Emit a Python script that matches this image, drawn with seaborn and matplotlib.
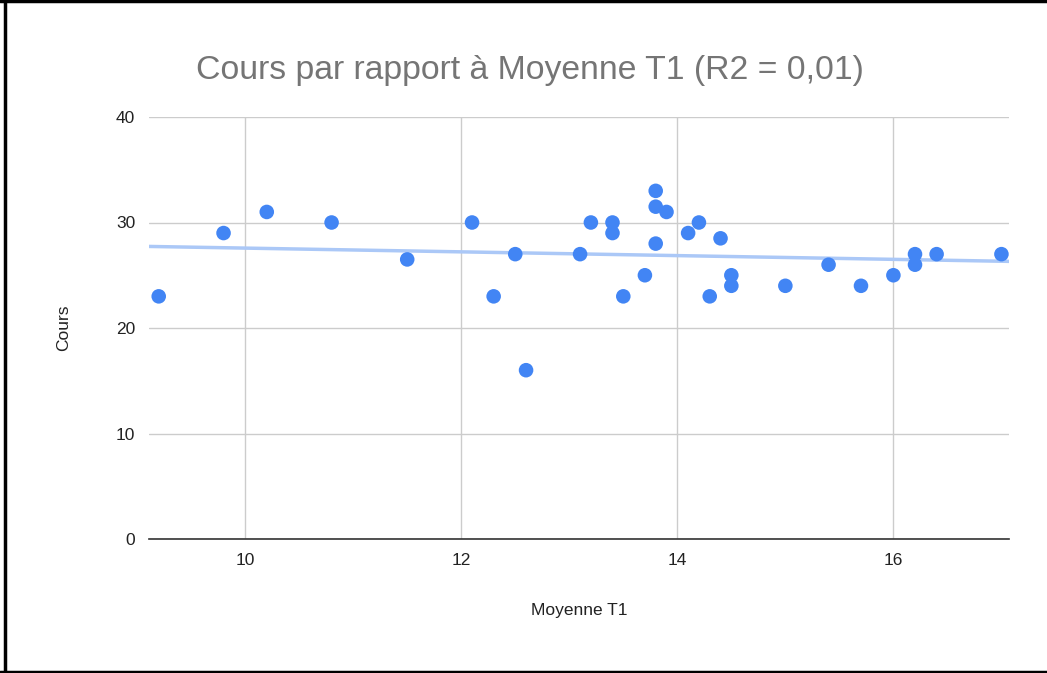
import numpy as np
import pandas as pd
import matplotlib
matplotlib.use("Agg")
import matplotlib.pyplot as plt
import seaborn as sns

# Data
moyenne_t1 = [9.2, 9.8, 10.2, 10.8, 11.5, 12.1, 12.3, 12.5, 12.6, 13.1, 13.2,
              13.4, 13.4, 13.5, 13.7, 13.8, 13.8, 13.9, 13.8, 14.1, 14.2, 14.4,
              14.3, 14.5, 14.5, 15.0, 15.4, 15.7, 16.0, 16.2, 16.2, 16.4, 17.0]
cours = [23, 29, 31, 30, 26.5, 30, 23, 27, 16, 27, 30,
         30, 29, 23, 25, 33, 31.5, 31, 28, 29, 30, 28.5,
         23, 25, 24, 24, 26, 24, 25, 27, 26, 27, 27]

x_ticks = [10, 12, 14, 16]
y_ticks = [0, 10, 20, 30, 40]

df = pd.DataFrame({"Moyenne T1": moyenne_t1, "Cours": cours})

sns.set_theme(style="white")
plt.rcParams["font.family"] = ["Liberation Sans", "DejaVu Sans"]

fig = plt.figure(figsize=(10.47, 6.73), dpi=100)
ax = fig.add_axes([149 / 1047, 1 - 539 / 673, 860 / 1047, 422 / 673])

sns.scatterplot(data=df, x="Moyenne T1", y="Cours", color="#4285f4", s=110,
                edgecolor="none", zorder=3, ax=ax)
ax.set_xlim(9.11, 17.07)
ax.set_ylim(0, 40)

# trendline (linear fit) across the whole axis
sns.regplot(data=df, x="Moyenne T1", y="Cours", scatter=False, ci=None,
            truncate=False, color="#abc8f7", line_kws={"linewidth": 2.5, "zorder": 2},
            ax=ax)

ax.set_xlim(9.11, 17.07)
ax.set_ylim(0, 40)
ax.set_xticks(x_ticks)
ax.set_yticks(y_ticks)
ax.grid(True, color="#cccccc", linewidth=1)
ax.set_axisbelow(True)
for side in ["left", "right", "top"]:
    ax.spines[side].set_visible(False)
ax.spines["bottom"].set_color("#333333")
ax.spines["bottom"].set_linewidth(1.2)
ax.tick_params(axis="both", length=0, labelsize=12.5, colors="#222222")
ax.tick_params(axis="x", pad=10)
ax.tick_params(axis="y", pad=10)

ax.set_xlabel("Moyenne T1", fontsize=12.5, color="#222222")
ax.set_ylabel("Cours", fontsize=12.5, color="#222222")
ax.xaxis.set_label_coords(0.5, -0.152)
ax.yaxis.set_label_coords(-0.091, 0.5)

fig.text(530 / 1047, 1 - 70 / 673, "Cours par rapport à Moyenne T1 (R2 = 0,01)",
         ha="center", va="center", fontsize=24.3, color="#757575")

# frame around the picture (left, top, bottom)
fig.add_artist(plt.Line2D([5 / 1047, 5 / 1047], [0, 1], color="black", linewidth=2.5,
                          transform=fig.transFigure))
fig.add_artist(plt.Line2D([0, 1], [1 - 1 / 673, 1 - 1 / 673], color="black", linewidth=2.5,
                          transform=fig.transFigure))
fig.add_artist(plt.Line2D([0, 1], [1 / 673, 1 / 673], color="black", linewidth=2.5,
                          transform=fig.transFigure))

fig.savefig("out.png", dpi=100)
